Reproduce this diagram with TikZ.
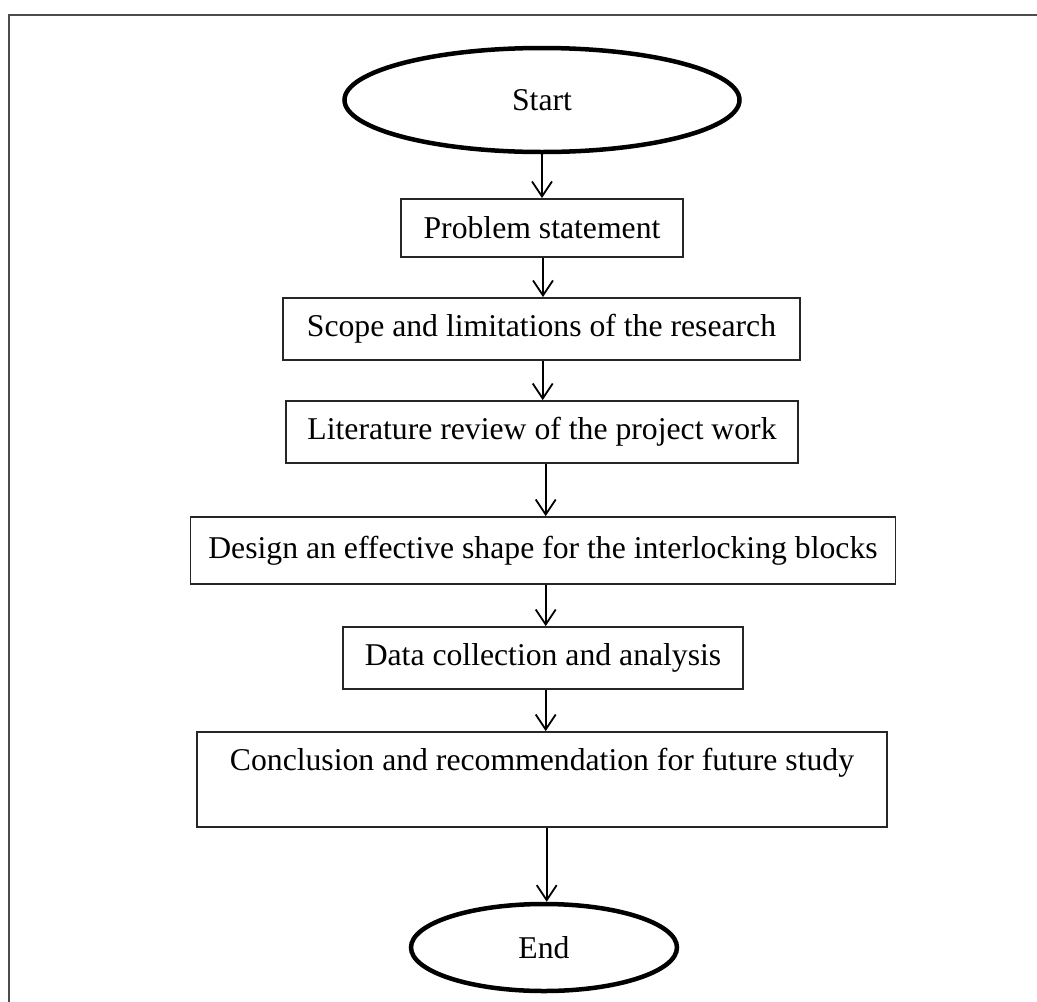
\documentclass[tikz,border=0pt]{standalone}
\usepackage{fontspec}
\setmainfont{Liberation Serif}
\usetikzlibrary{arrows.meta,shapes.geometric}
\begin{document}
\begin{tikzpicture}[x=1pt,y=-1pt,
  every node/.style={font=\fontsize{31.7}{38}\selectfont},
  stepbox/.style={draw=black!85, line width=1.8pt, inner sep=0pt},
  term/.style={ellipse, draw, line width=4.5pt, inner sep=0pt},
  arr/.style={line width=1.8pt, -{Straight Barb[length=15pt,width=20pt,line width=1.8pt]}},
  framel/.style={draw=black!70, line width=2pt}]
\useasboundingbox (0,0) rectangle (1037,1002);
% frame
\coordinate (ftl) at (8.5,14.5);
\coordinate (ftr) at (1037,14.5);
\coordinate (fbl) at (8.5,1002);
\draw[framel] (ftr) -- (ftl) -- (fbl);
% nodes
\node[term, minimum width=395, minimum height=104] (start) at (542,100) {Start};
\node[stepbox, minimum width=282, minimum height=58] (prob) at (542,228) {Problem statement};
\node[stepbox, minimum width=517, minimum height=62] (scope) at (541.5,329) {Scope and limitations of the research};
\node[stepbox, minimum width=512, minimum height=62] (lit) at (542,432) {Literature review of the project work};
\node[stepbox, minimum width=705, minimum height=67] (design) at (543,550.5) {Design an effective shape for the interlocking blocks};
\node[stepbox, minimum width=400, minimum height=62] (data) at (543,658) {Data collection and analysis};
\node[stepbox, minimum width=690, minimum height=95, text depth=40pt] (concl) at (542,779.5) {Conclusion and recommendation for future study};
\node[term, minimum width=266, minimum height=87] (end) at (544,947.5) {End};
% connectors
\coordinate (c1) at (542,0);
\coordinate (c2) at (543,0);
\coordinate (c3) at (542.7,0);
\coordinate (c4) at (545.7,0);
\coordinate (c5) at (546.7,0);
\draw[arr] (start.south -| c1) -- (prob.north -| c1);
\draw[arr] (prob.south -| c2) -- (scope.north -| c2);
\draw[arr] (scope.south -| c3) -- (lit.north -| c3);
\draw[arr] (lit.south -| c4) -- (design.north -| c4);
\draw[arr] (design.south -| c4) -- (data.north -| c4);
\draw[arr] (data.south -| c4) -- (concl.north -| c4);
\draw[arr] (concl.south -| c5) -- (end.north -| c5);
\end{tikzpicture}
\end{document}
